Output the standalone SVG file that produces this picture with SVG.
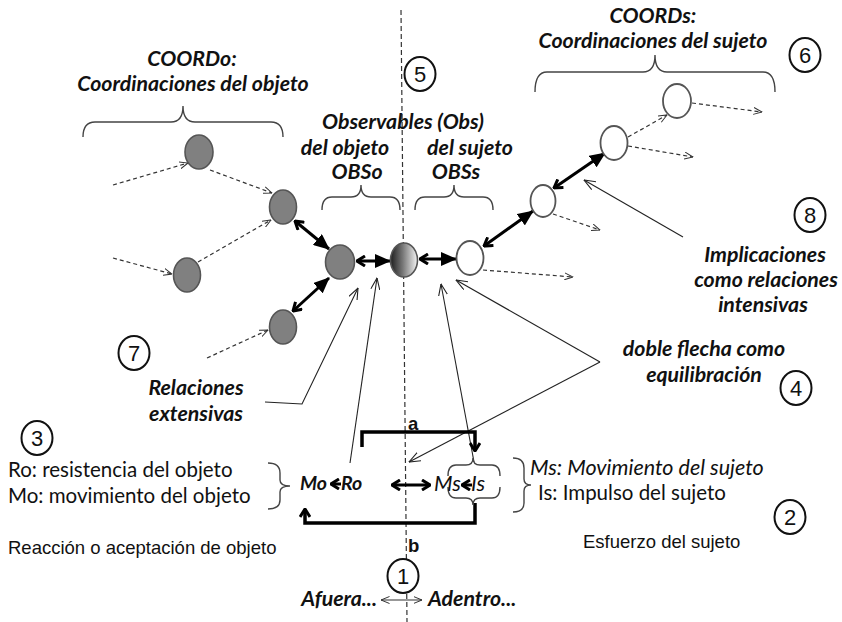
<svg xmlns="http://www.w3.org/2000/svg" width="842" height="622" viewBox="0 0 842 622">
<style>
.t{font-family:Lato,"Open Sans","Liberation Sans",sans-serif;fill:#111}
.bi{font-style:italic;font-weight:bold;font-size:21.3px}
.sm{font-size:19.5px}
.i{font-style:italic;font-size:21.5px}
.r{font-size:20.5px}
.ar{font-family:"Liberation Sans",Arial,sans-serif;font-size:18.5px;fill:#111}
.num{font-family:"Liberation Sans Narrow","Liberation Sans",sans-serif;font-size:22px;fill:#111;text-anchor:middle}
.gray{fill:#808080;stroke:#555;stroke-width:1.6}
.white{fill:#fff;stroke:#555;stroke-width:1.8}
.ring{fill:#fff;stroke:#111;stroke-width:2}
.brace{fill:none;stroke:#444;stroke-width:1.4}
.dash{fill:none;stroke:#333;stroke-width:1.2;stroke-dasharray:4 3;marker-end:url(#open)}
.dbl{fill:none;stroke:#000;stroke-width:3;marker-start:url(#chev);marker-end:url(#tri)}
.ptr{fill:none;stroke:#222;stroke-width:1.1;marker-end:url(#openL)}
.thick{fill:none;stroke:#000;stroke-width:3.5}
</style>
<defs>
<linearGradient id="grad" x1="0" y1="0" x2="1" y2="0">
<stop offset="0" stop-color="#1e1e1e"/><stop offset="0.45" stop-color="#777"/><stop offset="1" stop-color="#f4f4f4"/>
</linearGradient>
<marker id="tri" viewBox="0 0 16 14" refX="15" refY="7" markerWidth="16" markerHeight="14" markerUnits="userSpaceOnUse" orient="auto"><path d="M0,0 L16,7 L0,14 z" fill="#000"/></marker>
<marker id="chev" viewBox="0 0 10 12" refX="9" refY="6" markerWidth="10" markerHeight="12" markerUnits="userSpaceOnUse" orient="auto-start-reverse"><path d="M1,1 L9,6 L1,11" fill="none" stroke="#000" stroke-width="3"/></marker>
<marker id="open" viewBox="0 0 9 8" refX="8.5" refY="4" markerWidth="9" markerHeight="8" markerUnits="userSpaceOnUse" orient="auto-start-reverse"><path d="M0,0.5 L8.5,4 L0,7.5" fill="none" stroke="#333" stroke-width="1"/></marker>
<marker id="openL" viewBox="0 0 12 10" refX="11.5" refY="5" markerWidth="12" markerHeight="10" markerUnits="userSpaceOnUse" orient="auto"><path d="M0,0.5 L11.5,5 L0,9.5" fill="none" stroke="#222" stroke-width="1.1"/></marker>
</defs>
<rect width="842" height="622" fill="#fff"/>

<g id="divider">
<line x1="401" y1="10" x2="407" y2="622" stroke="#333" stroke-width="1.2" stroke-dasharray="5 3"/>
</g>

<g id="braces">
<path class="brace" d="M83,137 Q83,122 95,122 L171,122 Q183,122 183,106 Q183,122 195,122 L271,122 Q283,122 283,137"/>
<path class="brace" d="M535,92 Q535,72 547,72 L643,72 Q655,72 655,55 Q655,72 667,72 L763,72 Q775,72 775,92"/>
<path class="brace" d="M322,210 Q322,197 332,197 L351,197 Q361,197 361,185 Q361,197 371,197 L390,197 Q400,197 400,210"/>
<path class="brace" d="M415,210 Q415,197 425,197 L444,197 Q454,197 454,185 Q454,197 464,197 L483,197 Q493,197 493,210"/>
<path class="brace" d="M268,463 Q280,463 280,473 L280,480 Q280,486 290,486 Q280,486 280,492 L280,500 Q280,509 268,509"/>
<path class="brace" d="M513,458 Q524,458 524,468 L524,479 Q524,485 531,485 Q524,485 524,491 L524,503 Q524,512 513,512"/>
</g>

<g id="connectors">
<path class="dash" d="M113,185 L188,163"/>
<path class="dash" d="M210,170 L272,193"/>
<path class="dash" d="M113,258 L172,274"/>
<path class="dash" d="M198,262 L271,220"/>
<path class="dash" d="M207,358 L268,330"/>
<path class="dash" d="M483,270 L573,277"/>
<path class="dash" d="M553,214 L600,230"/>
<path class="dash" d="M628,137 L667,115"/>
<path class="dash" d="M628,146 L693,157"/>
<path class="dash" d="M692,103 L762,112"/>
<path class="dbl" d="M295,221 L329,249"/>
<path class="dbl" d="M293,311 L329,278"/>
<path class="dbl" d="M357,261 L390,261"/>
<path class="dbl" d="M420,259 L456,259"/>
<path class="dbl" d="M484,246 L533,211"/>
<path class="dbl" d="M554,188 L605,153"/>
<path class="ptr" d="M265,402 L302,404 L358,288"/>
<path class="ptr" d="M350,463 L377,278"/>
<path class="ptr" d="M474,462 L441,284"/>
<path class="ptr" d="M600,362 L456,280"/>
<path class="ptr" d="M600,362 L409,462"/>
<path class="ptr" d="M683,237 L584,180"/>
<path class="thick" d="M362,447 L362,432 L475,432 L475,451" marker-end="url(#chev)"/>
<path class="thick" d="M475,503 L475,523 L305,523 L305,509" marker-end="url(#chev)"/>
<path d="M448,476 Q448,465 456,465 L466,465 Q473,465 473,458 Q473,465 480,465 L492,465 Q500,465 500,476" fill="none" stroke="#444" stroke-width="1.4"/>
<path d="M448,487 Q448,498 456,498 L466,498 Q473,498 473,505 Q473,498 480,498 L492,498 Q500,498 500,487" fill="none" stroke="#444" stroke-width="1.4"/>
<path d="M341,484 L331,484" fill="none" stroke="#000" stroke-width="3" marker-end="url(#chev)"/>
<path d="M392,485 L430,485" fill="none" stroke="#000" stroke-width="3" marker-start="url(#chev)" marker-end="url(#chev)"/>
<path d="M472,485 L462,485" fill="none" stroke="#000" stroke-width="3" marker-end="url(#chev)"/>
<path d="M381,600 L422,600" fill="none" stroke="#333" stroke-width="1.1" marker-start="url(#open)" marker-end="url(#open)"/>
</g>

<g id="n-obj-top"><ellipse class="gray" cx="199" cy="152" rx="14" ry="17"/></g>
<g id="n-obj-2"><ellipse class="gray" cx="283" cy="207" rx="13.5" ry="17"/></g>
<g id="n-obj-3"><ellipse class="gray" cx="187" cy="275" rx="13.5" ry="17"/></g>
<g id="n-obj-main"><ellipse class="gray" cx="340" cy="262" rx="14.5" ry="17"/></g>
<g id="n-obj-5"><ellipse class="gray" cx="283" cy="327" rx="13.5" ry="17"/></g>
<g id="n-center"><ellipse cx="404" cy="260" rx="13.5" ry="17" fill="url(#grad)" stroke="#555" stroke-width="1.6"/></g>
<g id="n-suj-1"><ellipse class="white" cx="470" cy="258" rx="13.5" ry="17"/></g>
<g id="n-suj-2"><ellipse class="white" cx="543" cy="201" rx="12.5" ry="16"/></g>
<g id="n-suj-3"><ellipse class="white" cx="614" cy="143" rx="13.5" ry="17"/></g>
<g id="n-suj-4"><ellipse class="white" cx="677" cy="101" rx="14" ry="17"/></g>

<g id="numbers">
<ellipse class="ring" cx="403" cy="576" rx="15.5" ry="17"/><text class="num" x="403" y="584">1</text>
<ellipse class="ring" cx="790" cy="517" rx="15.5" ry="17"/><text class="num" x="790" y="525">2</text>
<ellipse class="ring" cx="37" cy="438" rx="15.5" ry="17"/><text class="num" x="37" y="446">3</text>
<ellipse class="ring" cx="796" cy="388" rx="15.5" ry="17"/><text class="num" x="796" y="396">4</text>
<ellipse class="ring" cx="420" cy="74" rx="15.5" ry="17"/><text class="num" x="420" y="82">5</text>
<ellipse class="ring" cx="805" cy="55" rx="15.5" ry="17"/><text class="num" x="805" y="63">6</text>
<ellipse class="ring" cx="134" cy="353" rx="15.5" ry="17"/><text class="num" x="134" y="361">7</text>
<ellipse class="ring" cx="810" cy="215" rx="15.5" ry="17"/><text class="num" x="810" y="223">8</text>
</g>

<g id="labels">
<text class="t bi" x="192" y="66" text-anchor="middle">COORDo:</text>
<text class="t bi" x="193" y="91" text-anchor="middle">Coordinaciones del objeto</text>
<text class="t bi" x="653" y="23" text-anchor="middle">COORDs:</text>
<text class="t bi" x="653" y="48" text-anchor="middle">Coordinaciones del sujeto</text>
<text class="t bi" x="403" y="129" text-anchor="middle">Observables (Obs)</text>
<text class="t bi" x="345" y="155" text-anchor="middle">del objeto</text>
<text class="t bi" x="357" y="179" text-anchor="middle">OBSo</text>
<text class="t bi" x="470" y="155" text-anchor="middle">del sujeto</text>
<text class="t bi" x="456" y="179" text-anchor="middle">OBSs</text>
<text class="t bi" x="765" y="262" text-anchor="middle">Implicaciones</text>
<text class="t bi" x="766" y="287" text-anchor="middle">como relaciones</text>
<text class="t bi" x="763" y="312" text-anchor="middle">intensivas</text>
<text class="t bi" x="704" y="356" text-anchor="middle">doble flecha como</text>
<text class="t bi" x="704" y="382" text-anchor="middle">equilibración</text>
<text class="t bi" x="196" y="395" text-anchor="middle">Relaciones</text>
<text class="t bi" x="196" y="421" text-anchor="middle">extensivas</text>
<text class="t r" x="8" y="477">Ro: resistencia del objeto</text>
<text class="t r" x="8" y="503">Mo: movimiento del objeto</text>
<text class="ar" x="8" y="554">Reacción o aceptación  de objeto</text>
<text class="t bi sm" x="300" y="490">Mo</text>
<text class="t bi sm" x="341" y="490">Ro</text>
<text class="t i" x="434" y="491" font-size="20">Ms</text>
<text class="t i" x="471" y="491" font-size="20">Is</text>
<text class="t i" x="530" y="475">Ms: Movimiento del sujeto</text>
<text class="t r" x="538" y="500">Is: Impulso del sujeto</text>
<text class="ar" x="583" y="548">Esfuerzo del sujeto</text>
<text class="ar" x="408" y="430" font-weight="bold" font-size="15">a</text>
<text class="ar" x="408" y="552" font-weight="bold" font-size="15">b</text>
<text class="t bi" x="377" y="606" text-anchor="end">Afuera...</text>
<text class="t bi" x="428" y="606">Adentro...</text>
</g>
</svg>
